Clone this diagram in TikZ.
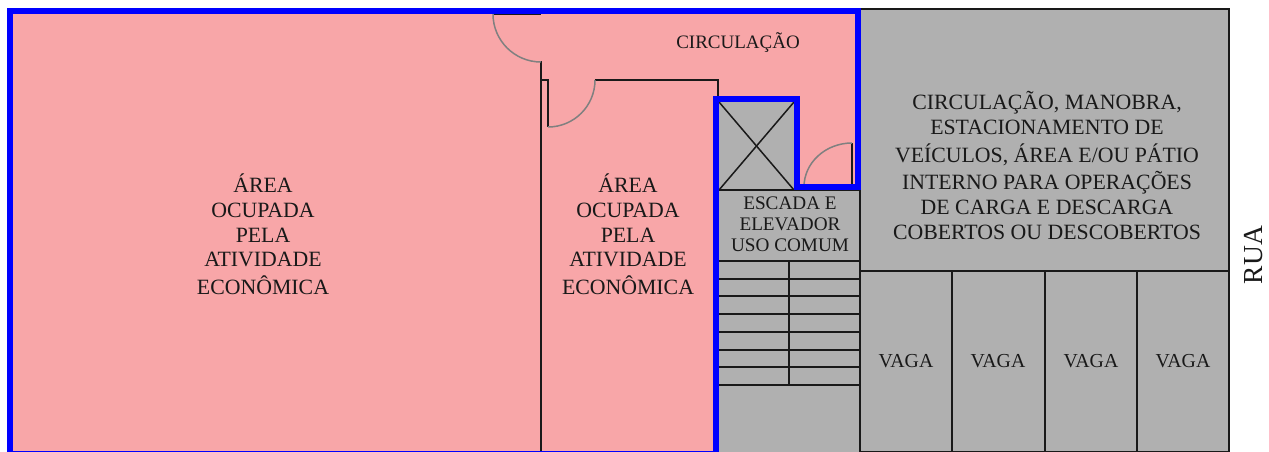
\documentclass[tikz,border=0pt]{standalone}
\usepackage{fontspec}
\setmainfont{Liberation Serif}
\definecolor{areapink}{RGB}{248,166,168}
\definecolor{commongray}{RGB}{176,176,176}
\definecolor{limitblue}{RGB}{0,0,255}
\tikzset{
    wall/.style={line width=1.5pt, black!90},
    door/.style={line width=1.5pt, gray},
    limit/.style={line width=6pt, limitblue, miter limit=10},
    lbl/.style={align=center, inner sep=0pt, text=black!90},
    biglbl/.style={lbl, font=\fontsize{21.8}{24.7}\selectfont},
    midlbl/.style={lbl, font=\fontsize{21.8}{25}\selectfont},
    smalllbl/.style={lbl, font=\fontsize{19.2}{21}\selectfont},
    vagalbl/.style={lbl, font=\fontsize{19.8}{21}\selectfont},
}
\begin{document}
\begin{tikzpicture}[x=1pt,y=-1pt]
    \useasboundingbox (0,0) rectangle (1269,452);

    % Draw the areas
    \fill[areapink] (10,11) -- (858,11) -- (858,187) -- (797,187) -- (797,99) -- (716,99) -- (716,452) -- (10,452) -- cycle;
    \fill[commongray] (860,9) -- (1229,9) -- (1229,452) -- (719,452) -- (719,102) -- (797,102) -- (797,190) -- (860,190) -- cycle;

    % Draw the parking
    \draw[wall] (860,9) -- (1229,9) -- (1229,452) -- (860,452);
    \draw[wall] (860,190) -- (860,452);
    \draw[wall] (860,271) -- (1229,271);
    \draw[wall] (952,271) -- (952,452);
    \draw[wall] (1045,271) -- (1045,452);
    \draw[wall] (1137,271) -- (1137,452);

    % Draw the stairs
    \draw[wall] (719,190) -- (860,190);
    \foreach \y in {261,279,296,314,332,350,367,385}
        \draw[wall] (719,\y) -- (860,\y);
    \draw[wall] (789,261) -- (789,385);

    % Draw the lift
    \draw[wall] (719,102) -- (794,190);
    \draw[wall] (794,102) -- (719,190);

    % Draw the inner walls
    \draw[wall] (493,14) -- (541,14);
    \draw[wall] (541,61) -- (541,452);
    \draw[wall] (541,80) -- (548,80) -- (548,127);
    \draw[wall] (595,80) -- (718,80) -- (718,96);
    \draw[wall] (852,143) -- (852,187);

    % Draw the doors
    \draw[door] (493,14) arc[start angle=180, end angle=90, radius=48];
    \draw[door] (548,127) arc[start angle=90, end angle=0, radius=47];
    \draw[door] (852,143) arc[start angle=270, end angle=180, x radius=48, y radius=44];

    % Draw the limit
    \draw[limit] (10,452) -- (10,11) -- (858,11) -- (858,187) -- (797,187) -- (797,99) -- (716,99) -- (716,452);
    \draw[limitblue, line width=1pt] (7,451.5) -- (719,451.5);

    % Labels
    \node[biglbl] (arealeft) at (263,234.5) {ÁREA\\OCUPADA\\PELA\\ATIVIDADE\\[3pt]ECONÔMICA};
    \node[biglbl] (arearight) at (628,234.5) {ÁREA\\OCUPADA\\PELA\\ATIVIDADE\\[3pt]ECONÔMICA};
    \node[lbl, font=\fontsize{19}{21}\selectfont] (circ) at (738,43) {CIRCULAÇÃO};
    \node[midlbl] (manobra) at (1047,165) {CIRCULAÇÃO, MANOBRA,\\ESTACIONAMENTO DE\\[3pt]VEÍCULOS, ÁREA E/OU PÁTIO\\[2pt]INTERNO PARA OPERAÇÕES\\DE CARGA E DESCARGA\\COBERTOS OU DESCOBERTOS};
    \node[smalllbl] (escada) at (790,224) {ESCADA E\\ELEVADOR\\USO COMUM};
    \node[vagalbl] (vaga1) at (906,361) {VAGA};
    \node[vagalbl] (vaga2) at (998,361) {VAGA};
    \node[vagalbl] (vaga3) at (1091,361) {VAGA};
    \node[vagalbl] (vaga4) at (1183,361) {VAGA};
    \node[lbl, font=\fontsize{27.5}{30}\selectfont, rotate=90] (rua) at (1254,255) {RUA};
\end{tikzpicture}
\end{document}
